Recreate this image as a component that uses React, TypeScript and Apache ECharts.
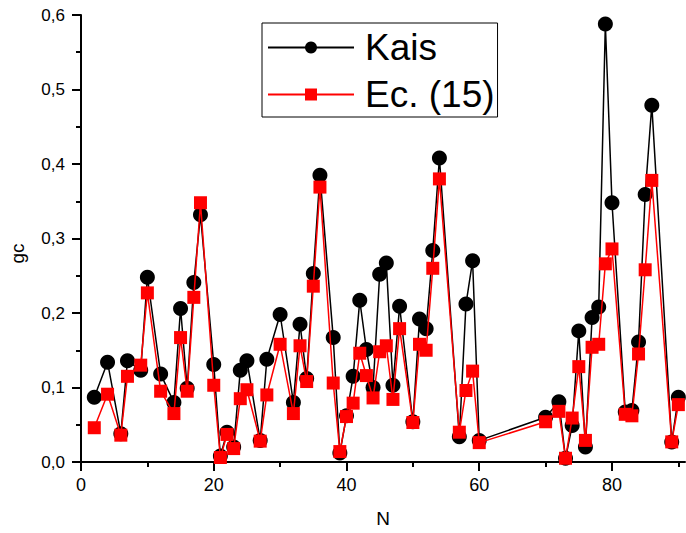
import React, { useEffect, useRef } from "react";
import * as echarts from "echarts";

const nValues = [2, 4, 6, 7, 9, 10, 12, 14, 15, 16, 17, 18, 20, 21, 22, 23, 24, 25, 27, 28, 30, 32, 33, 34, 35, 36, 38, 39, 40, 41, 42, 43, 44, 45, 46, 47, 48, 50, 51, 52, 53, 54, 57, 58, 59, 60, 70, 72, 73, 74, 75, 76, 77, 78, 79, 80, 82, 83, 84, 85, 86, 89, 90];

const kaisValues = [0.087, 0.134, 0.038, 0.136, 0.123, 0.248, 0.118, 0.080, 0.206, 0.099, 0.241, 0.332, 0.131, 0.008, 0.040, 0.020, 0.123, 0.136, 0.029, 0.138, 0.198, 0.080, 0.185, 0.112, 0.253, 0.385, 0.167, 0.012, 0.062, 0.115, 0.217, 0.151, 0.100, 0.252, 0.267, 0.103, 0.209, 0.054, 0.192, 0.179, 0.284, 0.408, 0.034, 0.212, 0.270, 0.029, 0.060, 0.081, 0.005, 0.049, 0.176, 0.020, 0.194, 0.208, 0.588, 0.348, 0.067, 0.069, 0.161, 0.359, 0.479, 0.027, 0.087];

const ec15Values = [0.046, 0.091, 0.036, 0.115, 0.130, 0.227, 0.095, 0.065, 0.167, 0.095, 0.221, 0.348, 0.103, 0.006, 0.037, 0.018, 0.085, 0.097, 0.028, 0.090, 0.158, 0.065, 0.156, 0.108, 0.236, 0.369, 0.106, 0.014, 0.061, 0.079, 0.146, 0.116, 0.086, 0.148, 0.156, 0.084, 0.179, 0.053, 0.158, 0.150, 0.260, 0.380, 0.040, 0.096, 0.122, 0.026, 0.054, 0.068, 0.005, 0.059, 0.128, 0.029, 0.154, 0.158, 0.266, 0.286, 0.064, 0.062, 0.145, 0.258, 0.378, 0.027, 0.077];

const xMajorTicks = [0, 20, 40, 60, 80];
const xMinorTicks = [10, 30, 50, 70, 90];

const seriesNames = ["Kais", "Ec. (15)"];

const FONT = "'Liberation Sans', Arial, sans-serif";

export default function App() {
  const ref = useRef<HTMLDivElement>(null);

  useEffect(() => {
    if (!ref.current) return;
    const chart = echarts.init(ref.current, null, { renderer: "svg" });
    const axisLineStyle = { color: "#000", width: 2 };
    chart.setOption({
      animation: false,
      backgroundColor: "#fff",
      grid: { left: 78, top: 15, right: 1, bottom: 66, containLabel: false },
      legend: {
        orient: "vertical",
        left: 262,
        top: 23,
        itemWidth: 86,
        itemHeight: 15,
        itemGap: 10,
        padding: [6, 3, 4, 5],
        borderColor: "#000",
        borderWidth: 1,
        backgroundColor: "#fff",
        textStyle: { fontFamily: FONT, fontSize: 37, color: "#000", padding: [0, 0, 0, 6] },
        data: seriesNames,
      },
      xAxis: [
        {
          type: "value",
          min: 0,
          max: 91,
          name: "N",
          nameLocation: "middle",
          nameGap: 47,
          nameTextStyle: { fontFamily: FONT, fontSize: 19, color: "#000" },
          axisLine: { show: true, onZero: false, lineStyle: axisLineStyle },
          axisTick: { show: true, inside: false, length: 9, lineStyle: axisLineStyle, customValues: xMajorTicks },
          axisLabel: { fontFamily: FONT, fontSize: 18, color: "#000", margin: 14, customValues: xMajorTicks },
          splitLine: { show: false },
        },
        {
          type: "value",
          min: 0,
          max: 91,
          position: "bottom",
          axisLine: { show: false, onZero: false },
          axisTick: { show: true, inside: false, length: 5, lineStyle: axisLineStyle, customValues: xMinorTicks },
          axisLabel: { show: false },
          splitLine: { show: false },
        },
      ],
      yAxis: {
        type: "value",
        min: 0,
        max: 0.6,
        interval: 0.1,
        name: "gc",
        nameLocation: "middle",
        nameGap: 54,
        nameTextStyle: { fontFamily: FONT, fontSize: 19, color: "#000", padding: [0, 30, 0, 0] },
        axisLine: { show: true, onZero: false, lineStyle: axisLineStyle },
        axisTick: { show: true, inside: false, length: 9, lineStyle: axisLineStyle },
        minorTick: { show: true, splitNumber: 2, length: 5, lineStyle: axisLineStyle },
        axisLabel: {
          fontFamily: FONT,
          fontSize: 17,
          color: "#000",
          margin: 16,
          formatter: (v: number) => v.toFixed(1).replace(".", ","),
        },
        splitLine: { show: false },
        minorSplitLine: { show: false },
      },
      series: [
        {
          name: seriesNames[0],
          type: "line",
          xAxisIndex: 0,
          data: nValues.map((n, i) => [n, kaisValues[i]]),
          symbol: "circle",
          symbolSize: 15,
          itemStyle: { color: "#000" },
          lineStyle: { color: "#000", width: 1.5 },
          z: 2,
        },
        {
          name: seriesNames[1],
          type: "line",
          xAxisIndex: 0,
          data: nValues.map((n, i) => [n, ec15Values[i]]),
          symbol: "rect",
          symbolSize: 13,
          itemStyle: { color: "#ff0000" },
          lineStyle: { color: "#ff0000", width: 1.5 },
          z: 3,
        },
      ],
    });
    return () => chart.dispose();
  }, []);

  return (
    <div
      ref={ref}
      style={{ position: "fixed", left: 0, top: 0, width: 686, height: 533, background: "#fff" }}
    />
  );
}
